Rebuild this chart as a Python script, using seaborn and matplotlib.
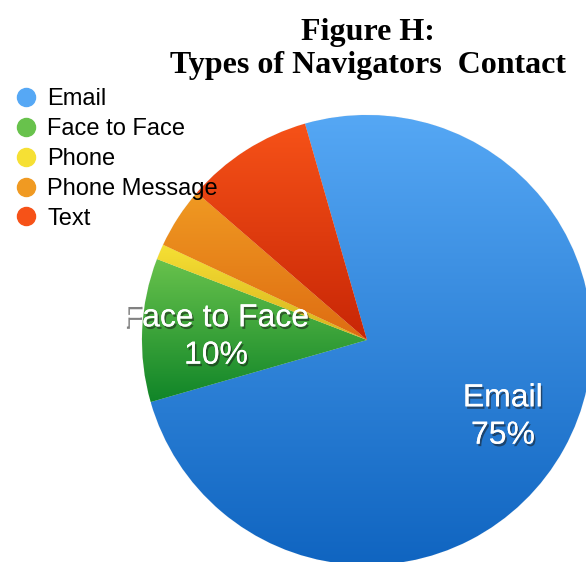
import numpy as np
import matplotlib
matplotlib.use("Agg")
from matplotlib import pyplot as plt
from matplotlib.colors import LinearSegmentedColormap
from matplotlib.lines import Line2D
import matplotlib.patheffects as pe
import seaborn as sns

categories = ["Email", "Face to Face", "Phone", "Phone Message", "Text"]
shares = [75.0, 10.3, 1.1, 4.4, 9.2]
shown_labels = {"Email": "Email\n75%", "Face to Face": "Face to Face\n10%"}
top_colors = ["#56A8F5", "#68C24C", "#F6E034", "#F09A22", "#F65218"]
bottom_colors = ["#0F64C0", "#108528", "#D6B21E", "#DE6C12", "#C82606"]

sns.set_theme(style="white")
plt.rcParams["font.family"] = ["Liberation Sans", "DejaVu Sans"]
plt.rcParams["text.color"] = "black"

W, H = 586, 562
fig = plt.figure(figsize=(W / 100, H / 100), dpi=100)
ax = fig.add_axes([0, 0, 1, 1])

cx, cy, r = 367, H - 340, 225
wedges, _ = ax.pie(shares, startangle=106, counterclock=False,
                   center=(cx, cy), radius=r, colors=top_colors,
                   wedgeprops=dict(linewidth=0.6, edgecolor="#f4f4f4"))

# vertical gradient inside every wedge
for w, c1, c2 in zip(wedges, top_colors, bottom_colors):
    verts = w.get_path().vertices
    x0, y0 = verts.min(axis=0)
    x1, y1 = verts.max(axis=0)
    cmap = LinearSegmentedColormap.from_list("g", [c2, c1])
    grad = np.linspace(0, 1, 256).reshape(-1, 1)
    im = ax.imshow(grad, cmap=cmap, extent=(x0, x1, y0, y1), origin="lower",
                   aspect="auto", zorder=w.get_zorder() + 0.1)
    im.set_clip_path(w)

ax.set_xlim(0, W)
ax.set_ylim(0, H)
ax.set_aspect("equal")
ax.axis("off")

shadow = [pe.withSimplePatchShadow(offset=(1.2, -1.8), shadow_rgbFace="#1a1a1a", alpha=0.55),
          pe.Normal()]
label_pos = {"Email": (503, H - 417), "Face to Face": (216, H - 337)}
for name, txt in shown_labels.items():
    x, y = label_pos[name]
    ax.text(x, y, txt, ha="center", va="center", color="white", fontsize=23,
            linespacing=1.32, path_effects=shadow, zorder=10)

fig.text(368 / W, 1 - 49 / H, "Figure H:\nTypes of Navigators  Contact",
         ha="center", va="center", fontsize=23, fontweight="bold", color="black",
         family=["Liberation Serif", "DejaVu Serif"], linespacing=1.2)

handles = [Line2D([], [], marker="o", linestyle="", markersize=13,
                  markerfacecolor=c, markeredgecolor=c) for c in top_colors]
leg = ax.legend(handles, categories, loc="upper left", bbox_to_anchor=(0.0, 1 - 79 / H),
                frameon=False, fontsize=17, handletextpad=0.2, labelspacing=0.33,
                borderaxespad=0.0, handlelength=1.4)
for t in leg.get_texts():
    t.set_color("black")

fig.savefig("out.png", dpi=100)
